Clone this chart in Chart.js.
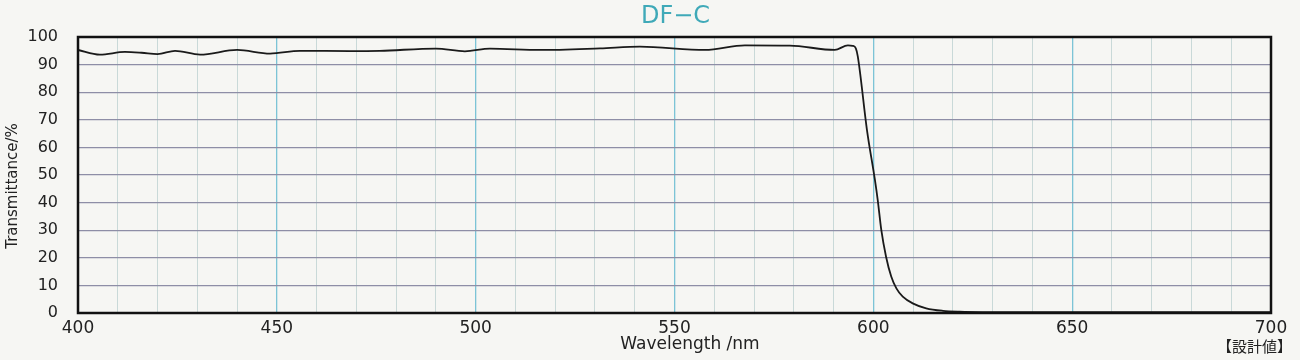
<!DOCTYPE html>
<html>
<head>
<meta charset="utf-8">
<script src="https://cdn.jsdelivr.net/npm/chart.js@4/dist/chart.umd.min.js"></script>
<style>
  html, body { margin: 0; padding: 0; background: #f6f6f3; }
  #wrap { width: 1300px; height: 360px; }
</style>
</head>
<body>
<div id="wrap"><canvas id="c" width="1300" height="360"></canvas></div>
<script>
const chartTitle = 'DF−C';
const xAxisTitle = 'Wavelength /nm';
const yAxisTitle = 'Transmittance/%';
const noteText = '【設計値】';

const wavelengths = [400, 405.5, 411.8, 416, 420, 424.4, 430.7, 440, 448.3, 455.8, 468.4, 475.9, 490, 497.3, 503.6, 516.2, 531.3, 541.3, 557.7, 567.7, 579, 590.3, 593.6, 594.8, 595.6, 596.1, 598.4, 600.4, 601.1, 602.0, 603.2, 604.5, 605.8, 607.4, 609.9, 613.3, 617.5, 621.7, 635, 700];
const transmittance = [95.3, 93.6, 94.6, 94.3, 93.8, 95.0, 93.6, 95.3, 94.0, 95.0, 94.9, 95.0, 95.8, 94.8, 95.8, 95.3, 95.9, 96.5, 95.3, 97.0, 96.9, 95.3, 97.0, 96.8, 95.9, 92.9, 66.3, 48.2, 41.0, 30.1, 20.4, 13.2, 8.9, 5.9, 3.5, 1.7, 0.8, 0.5, 0.3, 0.3];

const xMin = 400, xMax = 700, xStep = 10, xLabelStep = 50;
const yMin = 0, yMax = 100, yStep = 10;

const points = wavelengths.map((w, i) => ({ x: w, y: transmittance[i] }));

const decor = {
  id: 'decor',
  beforeDraw(chart) {
    const c = chart.ctx;
    c.save();
    c.fillStyle = '#f6f6f3';
    c.fillRect(0, 0, chart.width, chart.height);
    c.restore();
  },
  afterDraw(chart) {
    const c = chart.ctx;
    const a = chart.chartArea;
    c.save();
    c.strokeStyle = '#111';
    c.lineWidth = 2.5;
    c.strokeRect(a.left, a.top, a.right - a.left, a.bottom - a.top);
    c.fillStyle = '#3fa9b8';
    c.font = '24px "DejaVu Sans", sans-serif';
    c.textAlign = 'center';
    c.textBaseline = 'middle';
    c.fillText(chartTitle, (a.left + a.right) / 2 + 1, 17);
    c.fillStyle = '#222';
    c.font = '17px "DejaVu Sans", sans-serif';
    c.fillText(xAxisTitle, 690, 345);
    c.font = '15px "Noto Sans CJK JP", sans-serif';
    c.textAlign = 'right';
    c.fillText(noteText, 1292, 346);
    c.translate(13, 186);
    c.rotate(-Math.PI / 2);
    c.textAlign = 'center';
    c.font = '15px "DejaVu Sans", sans-serif';
    c.fillText(yAxisTitle, 0, 0);
    c.restore();
  }
};

new Chart(document.getElementById('c'), {
  type: 'line',
  data: {
    datasets: [{
      data: points,
      borderColor: '#1a1a1a',
      borderWidth: 1.8,
      pointRadius: 0,
      fill: false,
      cubicInterpolationMode: 'monotone'
    }]
  },
  options: {
    responsive: false,
    animation: false,
    events: [],
    layout: { padding: { top: 37, right: 29, bottom: 0, left: 0 } },
    plugins: { legend: { display: false }, tooltip: { enabled: false }, title: { display: false } },
    scales: {
      x: {
        type: 'linear', min: xMin, max: xMax,
        afterFit(s) { s.height = 47; },
        afterBuildTicks(s) {
          const t = [];
          for (let v = xMin; v <= xMax; v += xStep) t.push({ value: v });
          s.ticks = t;
        },
        grid: {
          drawTicks: false,
          color: ctx => (ctx.tick && ctx.tick.value % xLabelStep === 0) ? '#7cc4d6' : '#c9d9d8',
          lineWidth: ctx => (ctx.tick && ctx.tick.value % xLabelStep === 0) ? 1.3 : 1
        },
        border: { display: false },
        ticks: {
          autoSkip: false, maxRotation: 0, padding: 5,
          color: '#222', font: { family: '"DejaVu Sans", sans-serif', size: 17 },
          callback: v => (v % xLabelStep === 0 ? String(v) : '')
        }
      },
      y: {
        min: yMin, max: yMax,
        afterFit(s) { s.width = 78; },
        grid: { drawTicks: false, color: '#8e8ea6', lineWidth: 1.2 },
        border: { display: false },
        ticks: {
          stepSize: yStep, padding: 20,
          color: '#222', font: { family: '"DejaVu Sans", sans-serif', size: 16 }
        }
      }
    }
  },
  plugins: [decor]
});
</script>
</body>
</html>
